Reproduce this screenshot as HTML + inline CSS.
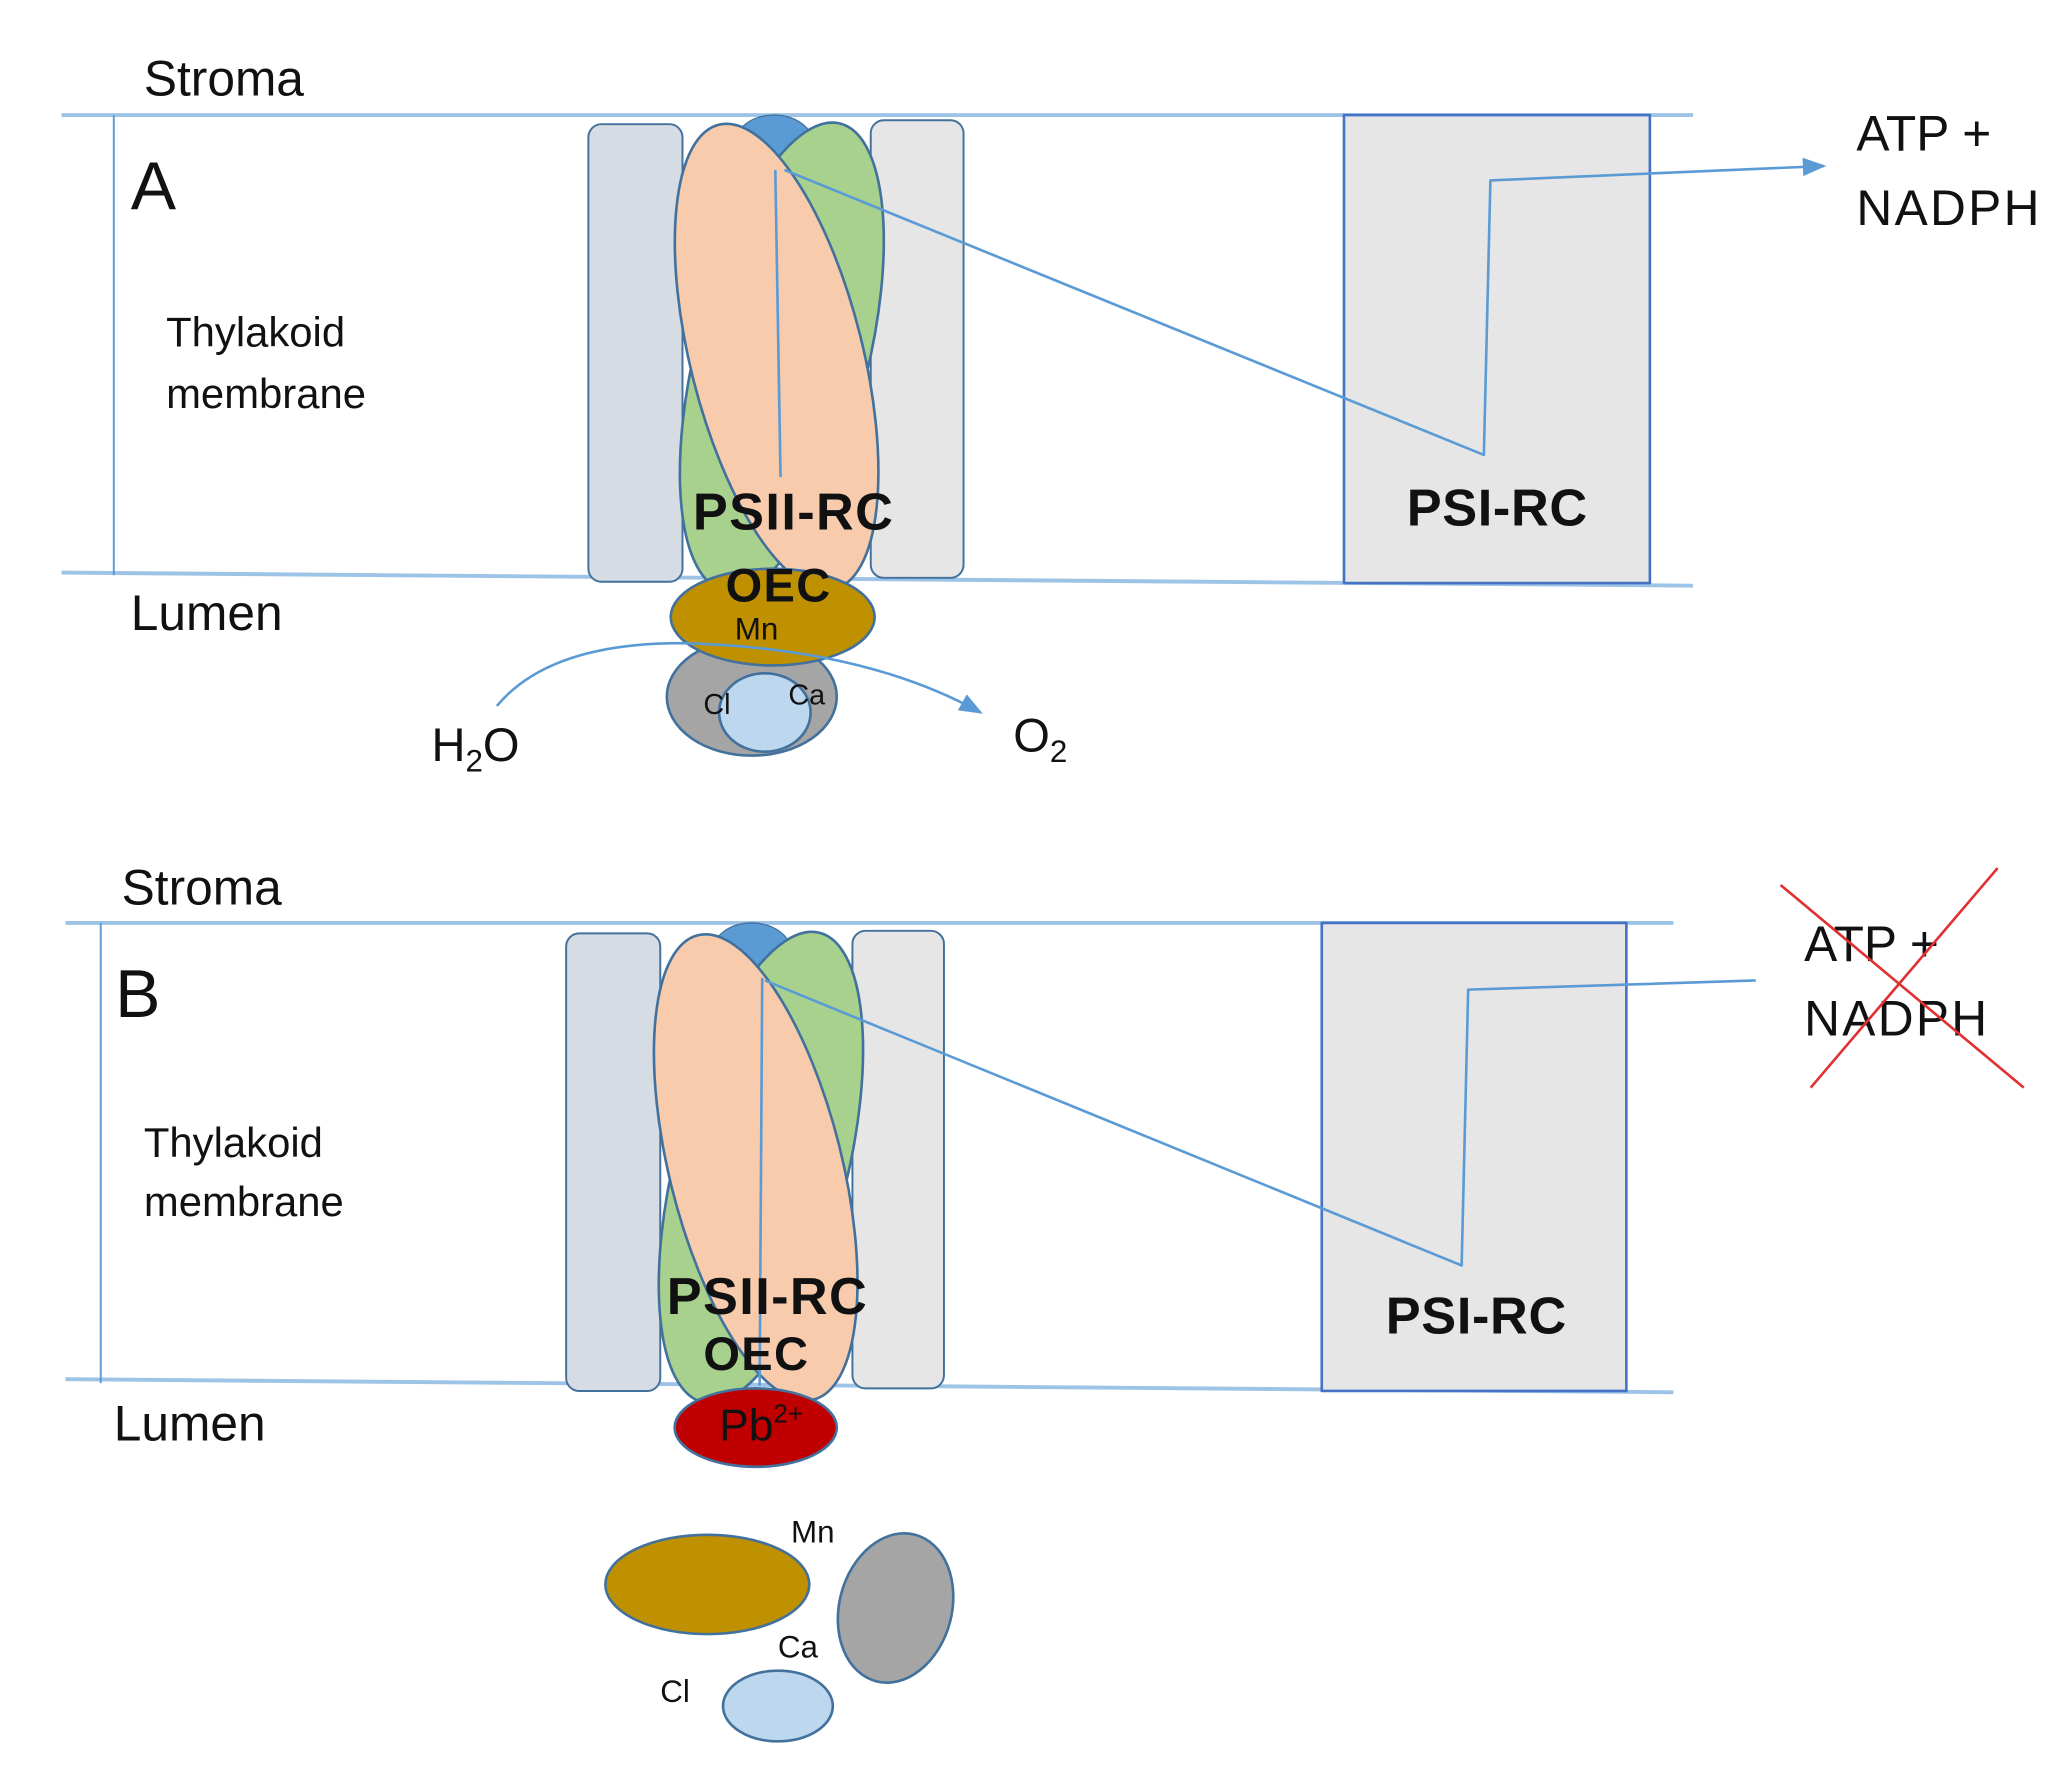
<!DOCTYPE html>
<html><head><meta charset="utf-8"><style>
html,body{margin:0;padding:0;background:#fff;width:2050px;height:1791px;overflow:hidden}
svg{display:block}
text{font-family:"Liberation Sans",sans-serif;fill:#111}
.b{font-weight:bold}
</style></head><body>
<svg width="2050" height="1791" viewBox="0 0 1568 1370" xmlns="http://www.w3.org/2000/svg">
<defs>
<marker id="ar2" markerWidth="18" markerHeight="14" refX="16" refY="7" orient="auto" markerUnits="userSpaceOnUse"><path d="M0,0 L18,7 L0,14 z" fill="#5b9bd5"/></marker>
</defs>
<g stroke-linejoin="round">
<!-- Panel A -->
<text x="110" y="73" font-size="38">Stroma</text>
<line x1="47" y1="88" x2="1295" y2="88" stroke="#9dc3e6" stroke-width="3"/>
<line x1="47" y1="438" x2="1295" y2="448" stroke="#9dc3e6" stroke-width="3"/>
<line x1="87" y1="88" x2="87" y2="440" stroke="#5b9bd5" stroke-width="1.5"/>
<text x="100" y="160" font-size="52">A</text>
<text x="127" y="265" font-size="32">Thylakoid</text>
<text x="127" y="312" font-size="32">membrane</text>
<text x="100" y="482" font-size="38">Lumen</text>
<rect x="450" y="95" width="72" height="350" rx="10" fill="#d6dce4" stroke="#41719c" stroke-width="1.5"/>
<rect x="666" y="92" width="71" height="350" rx="10" fill="#e7e6e6" stroke="#41719c" stroke-width="1.5"/>
<ellipse cx="592" cy="110" rx="30" ry="22" fill="#5b9bd5" stroke="#41719c"/>
<ellipse cx="598" cy="273" rx="66" ry="184" transform="rotate(14 598 273)" fill="#a9d18e" stroke="#41719c" stroke-width="2"/>
<ellipse cx="594" cy="273" rx="66" ry="183" transform="rotate(-14 594 273)" fill="#f8cbad" stroke="#41719c" stroke-width="2"/>
<line x1="593" y1="130" x2="597" y2="365" stroke="#5b9bd5" stroke-width="2"/>
<rect x="1028" y="88" width="234" height="358" fill="#e7e6e6" stroke="#4472c4" stroke-width="2"/>
<polyline points="600,130 1135,348 1140,138 1395,127" fill="none" stroke="#5b9bd5" stroke-width="2" marker-end="url(#ar2)"/>
<text class="b" x="530" y="405" font-size="40" textLength="153">PSII-RC</text>
<text class="b" x="1076" y="402" font-size="40" textLength="138">PSI-RC</text>
<ellipse cx="575" cy="533" rx="65" ry="45" fill="#a5a5a5" stroke="#41719c" stroke-width="2"/>
<ellipse cx="585" cy="545" rx="35" ry="30" fill="#bdd7ee" stroke="#41719c" stroke-width="2"/>
<ellipse cx="591" cy="472" rx="78" ry="37" fill="#bf9000" stroke="#41719c" stroke-width="2"/>
<text class="b" x="555" y="460" font-size="36" textLength="80">OEC</text>
<text x="562" y="489" font-size="24" fill="#333">Mn</text>
<text x="538" y="546" font-size="22">Cl</text>
<text x="603" y="539" font-size="22">Ca</text>
<path d="M380,540 Q420,492 520,492 Q660,495 750,545" fill="none" stroke="#5b9bd5" stroke-width="2" marker-end="url(#ar2)"/>
<text x="330" y="582" font-size="36">H<tspan font-size="24" dy="8">2</tspan><tspan dy="-8">O</tspan></text>
<text x="775" y="575" font-size="36">O<tspan font-size="24" dy="8">2</tspan></text>
<text x="1420" y="115" font-size="38">ATP +</text>
<text x="1420" y="172" font-size="38" textLength="140">NADPH</text>

<!-- Panel B -->
<text x="93" y="692" font-size="38">Stroma</text>
<line x1="50" y1="706" x2="1280" y2="706" stroke="#9dc3e6" stroke-width="3"/>
<line x1="50" y1="1055" x2="1280" y2="1065" stroke="#9dc3e6" stroke-width="3"/>
<line x1="77" y1="706" x2="77" y2="1058" stroke="#5b9bd5" stroke-width="1.5"/>
<text x="88" y="778" font-size="52">B</text>
<text x="110" y="885" font-size="32">Thylakoid</text>
<text x="110" y="930" font-size="32">membrane</text>
<text x="87" y="1102" font-size="38">Lumen</text>
<rect x="433" y="714" width="72" height="350" rx="10" fill="#d6dce4" stroke="#41719c" stroke-width="1.5"/>
<rect x="652" y="712" width="70" height="350" rx="10" fill="#e7e6e6" stroke="#41719c" stroke-width="1.5"/>
<ellipse cx="575" cy="728" rx="30" ry="22" fill="#5b9bd5" stroke="#41719c"/>
<ellipse cx="582" cy="893" rx="66" ry="185" transform="rotate(14 582 893)" fill="#a9d18e" stroke="#41719c" stroke-width="2"/>
<ellipse cx="578" cy="893" rx="66" ry="183" transform="rotate(-14 578 893)" fill="#f8cbad" stroke="#41719c" stroke-width="2"/>
<line x1="583" y1="748" x2="581" y2="1060" stroke="#5b9bd5" stroke-width="2"/>
<rect x="1011" y="706" width="233" height="358" fill="#e7e6e6" stroke="#4472c4" stroke-width="2"/>
<polyline points="585,750 1118,968 1123,757 1343,750" fill="none" stroke="#5b9bd5" stroke-width="2"/>
<text class="b" x="510" y="1005" font-size="40" textLength="153">PSII-RC</text>
<text class="b" x="538" y="1048" font-size="36" textLength="80">OEC</text>
<text class="b" x="1060" y="1020" font-size="40" textLength="138">PSI-RC</text>
<ellipse cx="578" cy="1092" rx="62" ry="30" fill="#c00000" stroke="#41719c" stroke-width="2"/>
<text x="550" y="1102" font-size="34" fill="#400">Pb<tspan font-size="20" dy="-14">2+</tspan></text>
<text x="1380" y="735" font-size="38">ATP +</text>
<text x="1380" y="792" font-size="38" textLength="140">NADPH</text>
<line x1="1362" y1="677" x2="1548" y2="832" stroke="#e03030" stroke-width="2"/>
<line x1="1528" y1="664" x2="1385" y2="832" stroke="#e03030" stroke-width="2"/>
<ellipse cx="541" cy="1212" rx="78" ry="38" fill="#bf9000" stroke="#41719c" stroke-width="2"/>
<ellipse cx="685" cy="1230" rx="43" ry="58" transform="rotate(15 685 1230)" fill="#a5a5a5" stroke="#41719c" stroke-width="2"/>
<ellipse cx="595" cy="1305" rx="42" ry="27" fill="#bdd7ee" stroke="#41719c" stroke-width="2"/>
<text x="605" y="1180" font-size="24">Mn</text>
<text x="595" y="1268" font-size="24">Ca</text>
<text x="505" y="1302" font-size="24">Cl</text>
</g>
</svg>
</body></html>
